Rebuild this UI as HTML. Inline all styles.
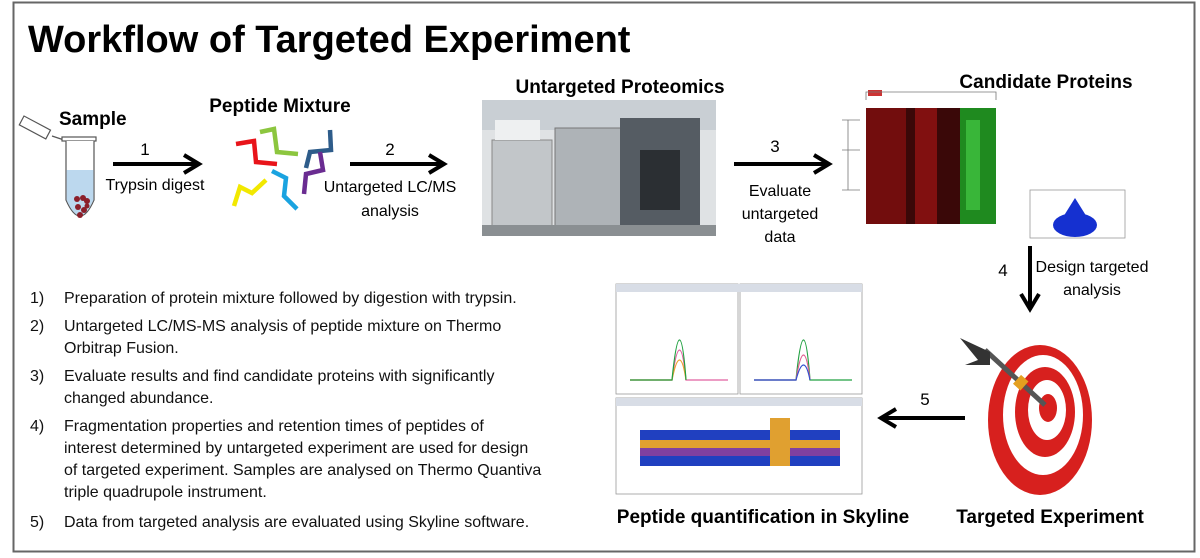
<!DOCTYPE html>
<html><head><meta charset="utf-8"><style>
html,body{margin:0;padding:0;background:#fff;}
svg{display:block;font-family:"Liberation Sans",sans-serif;}
</style></head><body>
<svg width="1200" height="558" viewBox="0 0 1200 558" xmlns="http://www.w3.org/2000/svg">
<rect x="13.5" y="2.5" width="1181" height="549" fill="#fff" stroke="#666" stroke-width="2"/>
<text x="28" y="52" font-size="38" font-weight="bold">Workflow of Targeted Experiment</text>

<!-- Sample -->
<text x="59" y="125" font-size="19" font-weight="bold">Sample</text>
<g stroke="#555" stroke-width="1.2" fill="#fff">
<rect x="24" y="116" width="30" height="10" transform="rotate(28 24 116)"/>
<path d="M52 136 L64 140"/>
<rect x="62" y="137" width="34" height="4"/>
<path d="M66 141 L66 200 Q80 232 94 200 L94 141" fill="#fff"/>
</g>
<path d="M66.6 170 L93.4 170 L93.4 200 Q80 231 66.6 200Z" fill="#bcd8ee"/>
<g fill="#8b1f2a"><circle cx="77" cy="199" r="3"/><circle cx="83" cy="198" r="3"/><circle cx="87" cy="201" r="3"/><circle cx="78" cy="207" r="3"/><circle cx="84" cy="210" r="3"/><circle cx="80" cy="215" r="3"/><circle cx="87" cy="206" r="2.5"/></g>

<!-- arrow 1 -->
<g stroke="#000" stroke-width="4" fill="none"><line x1="113" y1="164" x2="196" y2="164"/><polyline points="184,155 199,164 184,173"/></g>
<text x="145" y="155" font-size="17" text-anchor="middle">1</text>
<text x="155" y="190" font-size="16" text-anchor="middle">Trypsin digest</text>

<!-- Peptide -->
<text x="280" y="112" font-size="19" font-weight="bold" text-anchor="middle">Peptide Mixture</text>
<g fill="none" stroke-width="4.5">
<path d="M236 144 L254 141 L256 162 L277 164" stroke="#e8141a"/>
<path d="M260 132 L274 129 L277 152 L298 154" stroke="#8cc63f"/>
<path d="M330 130 L331 150 L310 152 L306 168" stroke="#2e5c8a"/>
<path d="M320 152 L323 170 L306 174 L304 194" stroke="#6a2c91"/>
<path d="M234 206 L240 187 L252 193 L266 180" stroke="#f2e800"/>
<path d="M272 171 L286 178 L284 196 L297 209" stroke="#1aa3e0"/>
</g>

<!-- arrow 2 -->
<g stroke="#000" stroke-width="4" fill="none"><line x1="350" y1="164" x2="441" y2="164"/><polyline points="429,155 444,164 429,173"/></g>
<text x="390" y="155" font-size="17" text-anchor="middle">2</text>
<text x="390" y="192" font-size="16" text-anchor="middle">Untargeted LC/MS</text>
<text x="390" y="216" font-size="16" text-anchor="middle">analysis</text>

<!-- Untargeted proteomics photo -->
<text x="620" y="93" font-size="19" font-weight="bold" text-anchor="middle">Untargeted Proteomics</text>
<rect x="482" y="100" width="234" height="136" fill="#dfe2e4"/>
<rect x="482" y="100" width="234" height="30" fill="#c9cfd4"/>
<rect x="492" y="140" width="60" height="90" fill="#c2c6c9" stroke="#888"/>
<rect x="555" y="128" width="70" height="104" fill="#aeb3b7" stroke="#777"/>
<rect x="620" y="118" width="80" height="115" fill="#555c63"/>
<rect x="640" y="150" width="40" height="60" fill="#2b2f33"/>
<rect x="495" y="120" width="45" height="20" fill="#eef0f1"/>
<rect x="482" y="225" width="234" height="11" fill="#8a8f92"/>

<!-- arrow 3 -->
<g stroke="#000" stroke-width="4" fill="none"><line x1="734" y1="164" x2="826" y2="164"/><polyline points="814,155 829,164 814,173"/></g>
<text x="775" y="152" font-size="17" text-anchor="middle">3</text>
<text x="780" y="196" font-size="16" text-anchor="middle">Evaluate</text>
<text x="780" y="219" font-size="16" text-anchor="middle">untargeted</text>
<text x="780" y="242" font-size="16" text-anchor="middle">data</text>

<!-- Candidate proteins -->
<text x="1046" y="88" font-size="19" font-weight="bold" text-anchor="middle">Candidate Proteins</text>
<rect x="866" y="108" width="130" height="116" fill="#3a0808"/>
<rect x="866" y="108" width="40" height="116" fill="#8a1010" opacity=".7"/>
<rect x="915" y="108" width="22" height="116" fill="#b01515" opacity=".6"/>
<rect x="960" y="108" width="36" height="116" fill="#1f8a1f"/>
<rect x="966" y="120" width="14" height="90" fill="#40c040" opacity=".8"/>
<rect x="868" y="90" width="14" height="6" fill="#c33"/>
<g stroke="#777" fill="none" stroke-width="0.8"><path d="M842 120 H860 M842 150 H860 M842 190 H860 M848 120 V190 M866 100 V92 H996 V100"/></g>
<rect x="1030" y="190" width="95" height="48" fill="#fff" stroke="#999" stroke-width="0.8"/>
<ellipse cx="1075" cy="225" rx="22" ry="12" fill="#1530d0"/>
<path d="M1060 222 L1075 198 L1090 222Z" fill="#1530d0"/>

<!-- arrow 4 -->
<g stroke="#000" stroke-width="4" fill="none"><line x1="1030" y1="246" x2="1030" y2="306"/><polyline points="1021,294 1030,309 1039,294"/></g>
<text x="1003" y="276" font-size="17" text-anchor="middle">4</text>
<text x="1092" y="272" font-size="16" text-anchor="middle">Design targeted</text>
<text x="1092" y="295" font-size="16" text-anchor="middle">analysis</text>

<!-- target -->
<ellipse cx="1040" cy="420" rx="52" ry="75" fill="#d7201e"/>
<ellipse cx="1043" cy="415" rx="40" ry="60" fill="#fff"/>
<ellipse cx="1045" cy="412" rx="30" ry="45" fill="#d7201e"/>
<ellipse cx="1047" cy="410" rx="19" ry="30" fill="#fff"/>
<ellipse cx="1048" cy="408" rx="9" ry="14" fill="#d7201e"/>
<line x1="1045" y1="405" x2="985" y2="350" stroke="#555" stroke-width="5"/>
<path d="M990 352 L960 338 L978 360 L965 365 L990 365Z" fill="#333"/>
<rect x="1016" y="376" width="10" height="12" fill="#e4a020" transform="rotate(42 1020 382)"/>
<text x="1050" y="523" font-size="19" font-weight="bold" text-anchor="middle">Targeted Experiment</text>

<!-- arrow 5 -->
<g stroke="#000" stroke-width="4" fill="none"><line x1="965" y1="418" x2="884" y2="418"/><polyline points="896,409 881,418 896,427"/></g>
<text x="925" y="405" font-size="17" text-anchor="middle">5</text>

<!-- skyline -->
<rect x="616" y="284" width="122" height="110" fill="#fff" stroke="#999" stroke-width="0.8"/>
<rect x="740" y="284" width="122" height="110" fill="#fff" stroke="#999" stroke-width="0.8"/>
<rect x="616" y="284" width="246" height="8" fill="#d8dde6"/>
<g fill="none" stroke-width="1.2">
<path d="M630 380 L672 380 Q680 320 686 380 L728 380" stroke="#e060a0"/>
<path d="M630 380 L672 380 Q680 340 686 380" stroke="#f0a030"/>
<path d="M630 380 L672 380 Q680 300 686 380" stroke="#20a040"/>
<path d="M754 380 L796 380 Q804 300 810 380 L852 380" stroke="#20a040"/>
<path d="M754 380 L796 380 Q804 330 810 380" stroke="#e06090"/>
<path d="M754 380 L796 380 Q804 350 810 380" stroke="#3050d0"/>
</g>
<rect x="616" y="398" width="246" height="96" fill="#fff" stroke="#999" stroke-width="0.8"/>
<rect x="616" y="398" width="246" height="8" fill="#d8dde6"/>
<g>
<rect x="640" y="430" width="200" height="36" fill="#2040c0"/>
<rect x="640" y="440" width="200" height="16" fill="#e0a030"/>
<rect x="640" y="448" width="200" height="8" fill="#8040a0"/>
<rect x="770" y="418" width="20" height="48" fill="#e0a030"/>
</g>
<text x="763" y="523" font-size="19" font-weight="bold" text-anchor="middle">Peptide quantification in Skyline</text>

<!-- list -->
<g font-size="16" fill="#111">
<text x="30" y="303">1)</text><text x="64" y="303">Preparation of protein mixture followed by digestion with trypsin.</text>
<text x="30" y="331">2)</text><text x="64" y="331">Untargeted LC/MS-MS analysis of peptide mixture on Thermo</text>
<text x="64" y="353">Orbitrap Fusion.</text>
<text x="30" y="381">3)</text><text x="64" y="381">Evaluate results and find candidate proteins with significantly</text>
<text x="64" y="403">changed abundance.</text>
<text x="30" y="431">4)</text><text x="64" y="431">Fragmentation properties and retention times of peptides of</text>
<text x="64" y="453">interest determined by untargeted experiment are used for design</text>
<text x="64" y="475">of targeted experiment. Samples are analysed on Thermo Quantiva</text>
<text x="64" y="497">triple quadrupole instrument.</text>
<text x="30" y="527">5)</text><text x="64" y="527">Data from targeted analysis are evaluated using Skyline software.</text>
</g>
</svg>
</body></html>
